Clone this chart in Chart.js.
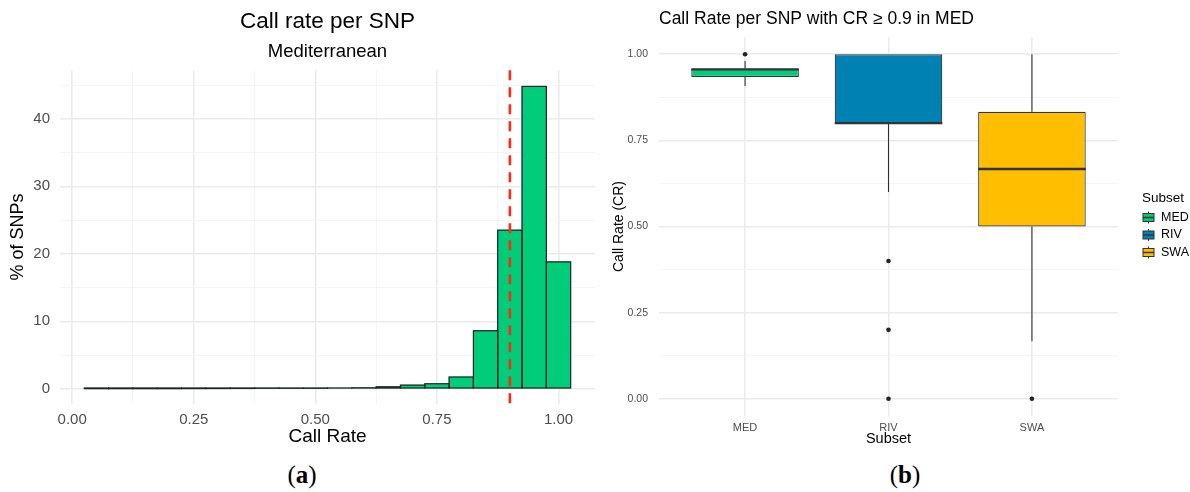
<!DOCTYPE html>
<html>
<head>
<meta charset="utf-8">
<script src="https://cdn.jsdelivr.net/npm/chart.js@4.4.1/dist/chart.umd.min.js"></script>
<style>
  body { margin: 0; background: #fff; width: 1190px; height: 492px; overflow: hidden; position: relative; }
  canvas { position: absolute; top: 0; }
  #histChart { left: 0; }
  #boxChart { left: 600px; }
  .caption { position: absolute; top: 461px; font-family: "Liberation Serif", serif; font-size: 25px; color: #000; transform: translateX(-50%); }
</style>
</head>
<body>
<canvas id="histChart" width="600" height="448"></canvas>
<canvas id="boxChart" width="590" height="448"></canvas>
<div class="caption" style="left:302px">(<b>a</b>)</div>
<div class="caption" style="left:905px">(<b>b</b>)</div>
<script>
// Histogram (a): bin centres and % of SNPs per bin
const binCenters = [0.05, 0.10, 0.15, 0.20, 0.25, 0.30, 0.35, 0.40, 0.45, 0.50,
                    0.55, 0.60, 0.65, 0.70, 0.75, 0.80, 0.85, 0.90, 0.95, 1.00];
const snpPercent = [0.02, 0.02, 0.02, 0.02, 0.03, 0.04, 0.05, 0.08, 0.08, 0.08,
                    0.12, 0.15, 0.3, 0.55, 0.75, 1.75, 8.6, 23.5, 44.8, 18.8];
const callRateTicks = [0, 0.25, 0.5, 0.75, 1];
const percentTicks = [0, 10, 20, 30, 40];
const cutoff = 0.9;

// Boxplot (b): one entry per subset
const subsets = ['MED', 'RIV', 'SWA'];
const subsetColors = ['#00cc7a', '#0081b4', '#ffbf00'];
const q1 = [0.934, 0.8, 0.5];
const median = [0.956, 0.8, 0.667];
const q3 = [0.958, 1.0, 0.833];
const whiskerLow = [0.908, 0.6, 0.167];
const whiskerHigh = [0.98, 1.0, 1.0];
const outliers = [[1.0], [0.4, 0.2, 0.0], [0.0]];
const crTicks = [0, 0.25, 0.5, 0.75, 1];

const FONT = '"Liberation Sans", Arial, sans-serif';
const TICK_COLOR = '#4d4d4d';
const GRID_MAJOR = '#ebebeb';
const GRID_MINOR = '#f2f2f2';

// ggplot-style major + minor gridlines (minor halfway between majors)
function withMinor(majors) {
  const out = [];
  for (let i = 0; i < majors.length; i++) {
    out.push(majors[i]);
    if (i < majors.length - 1) out.push((majors[i] + majors[i + 1]) / 2);
  }
  return out;
}
const isMajor = (majors, v) => majors.some(m => Math.abs(m - v) < 1e-9);

function gridOpts(majors) {
  return {
    drawTicks: false,
    color: ctx => (ctx.tick && isMajor(majors, ctx.tick.value)) ? GRID_MAJOR : GRID_MINOR,
    lineWidth: ctx => (ctx.tick && isMajor(majors, ctx.tick.value)) ? 1.6 : 0.8
  };
}

// outline every histogram bar (even the near-zero ones, like ggplot does)
const barOutline = {
  id: 'barOutline',
  afterDatasetsDraw(chart) {
    const {ctx} = chart;
    ctx.save();
    ctx.strokeStyle = '#222';
    ctx.lineWidth = 1.2;
    chart.getDatasetMeta(0).data.forEach(bar => {
      const top = Math.min(bar.y, bar.base);
      const h = Math.abs(bar.base - bar.y);
      ctx.strokeRect(bar.x - bar.width / 2, top, bar.width, h);
    });
    ctx.restore();
  }
};

const cutoffLine = {
  id: 'cutoffLine',
  afterDatasetsDraw(chart) {
    const {ctx, chartArea, scales: {x}} = chart;
    const px = x.getPixelForValue(cutoff);
    ctx.save();
    ctx.strokeStyle = '#ff2a12';
    ctx.lineWidth = 2.6;
    ctx.setLineDash([10, 7]);
    ctx.beginPath();
    ctx.moveTo(px, chartArea.top);
    ctx.lineTo(px, chartArea.bottom);
    ctx.stroke();
    ctx.restore();
  }
};

new Chart(document.getElementById('histChart'), {
  type: 'bar',
  data: {
    datasets: [{
      data: binCenters.map((c, i) => ({x: c, y: snpPercent[i]})),
      backgroundColor: '#00cc7a',
      borderWidth: 0,
      categoryPercentage: 1,
      barPercentage: 1
    }]
  },
  options: {
    responsive: false,
    animation: false,
    layout: {padding: {top: 8, left: 0, right: 5, bottom: 0}},
    plugins: {
      legend: {display: false},
      tooltip: {enabled: false},
      title: {display: true, text: 'Call rate per SNP', fullSize: false, color: '#000',
              font: {family: FONT, size: 22.5, weight: 'normal'}, padding: {top: 0, bottom: 4}},
      subtitle: {display: true, text: 'Mediterranean', fullSize: false, color: '#000',
                 font: {family: FONT, size: 18.5}, padding: {top: 2, bottom: 7}}
    },
    scales: {
      x: {
        type: 'linear', offset: false, min: -0.025, max: 1.075,
        afterBuildTicks: s => { s.ticks = withMinor(callRateTicks).map(v => ({value: v})); },
        afterFit: s => { s.height = 44; },
        ticks: {color: TICK_COLOR, font: {family: FONT, size: 15}, padding: 7, maxRotation: 0,
                callback: v => isMajor(callRateTicks, v) ? v.toFixed(2) : ''},
        grid: Object.assign({offset: false}, gridOpts(callRateTicks)),
        border: {display: false},
        title: {display: true, text: 'Call Rate', color: '#000', font: {family: FONT, size: 19}, padding: 0}
      },
      y: {
        min: -2.25, max: 47.2,
        afterBuildTicks: s => { s.ticks = withMinor(percentTicks).concat([45]).map(v => ({value: v})); },
        afterFit: s => { s.width = 60; },
        ticks: {color: TICK_COLOR, font: {family: FONT, size: 15}, padding: 10,
                callback: v => isMajor(percentTicks, v) ? String(v) : ''},
        grid: gridOpts(percentTicks),
        border: {display: false},
        title: {display: true, text: '% of SNPs', color: '#000', font: {family: FONT, size: 18}, padding: {top: 7, bottom: 0}}
      }
    }
  },
  plugins: [barOutline, cutoffLine]
});

// whiskers behind the boxes, medians on top, legend at the right
const boxExtras = {
  id: 'boxExtras',
  beforeDatasetsDraw(chart) {
    const {ctx, scales: {x, y}} = chart;
    ctx.save();
    ctx.strokeStyle = '#333';
    ctx.lineWidth = 1.1;
    subsets.forEach((s, i) => {
      const px = x.getPixelForValue(i + 1);
      ctx.beginPath();
      ctx.moveTo(px, y.getPixelForValue(whiskerHigh[i]));
      ctx.lineTo(px, y.getPixelForValue(q3[i]));
      ctx.moveTo(px, y.getPixelForValue(q1[i]));
      ctx.lineTo(px, y.getPixelForValue(whiskerLow[i]));
      ctx.stroke();
    });
    ctx.restore();
  },
  afterDatasetsDraw(chart) {
    const {ctx, scales: {y}} = chart;
    const bars = chart.getDatasetMeta(0).data;
    ctx.save();
    ctx.strokeStyle = '#333';
    ctx.lineWidth = 2.4;
    bars.forEach((bar, i) => {
      const py = y.getPixelForValue(median[i]);
      ctx.beginPath();
      ctx.moveTo(bar.x - bar.width / 2, py);
      ctx.lineTo(bar.x + bar.width / 2, py);
      ctx.stroke();
    });
    ctx.restore();
  },
  afterDraw(chart) {
    const ctx = chart.ctx;
    const left = 543;
    ctx.save();
    ctx.fillStyle = '#000';
    ctx.textBaseline = 'middle';
    ctx.font = '13.5px ' + FONT;
    ctx.fillText('Subset', left - 1, 198);
    ctx.font = '12.5px ' + FONT;
    subsets.forEach((s, i) => {
      const cy = 217.5 + i * 17.5;
      ctx.strokeStyle = '#333';
      ctx.lineWidth = 1;
      ctx.beginPath();
      ctx.moveTo(left + 5.5, cy - 6);
      ctx.lineTo(left + 5.5, cy + 6);
      ctx.stroke();
      ctx.fillStyle = subsetColors[i];
      ctx.fillRect(left, cy - 4, 11, 8);
      ctx.strokeRect(left, cy - 4, 11, 8);
      ctx.lineWidth = 1.5;
      ctx.beginPath();
      ctx.moveTo(left, cy);
      ctx.lineTo(left + 11, cy);
      ctx.stroke();
      ctx.fillStyle = '#000';
      ctx.fillText(s, left + 18, cy);
    });
    ctx.restore();
  }
};

const outlierPoints = [];
outliers.forEach((list, i) => list.forEach(v => outlierPoints.push({x: i + 1, y: v})));

new Chart(document.getElementById('boxChart'), {
  type: 'bar',
  data: {
    datasets: [{
      type: 'bar',
      data: subsets.map((s, i) => ({x: i + 1, y: [q1[i], q3[i]]})),
      backgroundColor: subsetColors,
      borderColor: '#333',
      borderWidth: 1.2,
      borderSkipped: false,
      categoryPercentage: 1,
      barPercentage: 0.75
    }, {
      type: 'scatter',
      data: outlierPoints,
      pointRadius: 2.3,
      pointBackgroundColor: '#222',
      pointBorderWidth: 0
    }]
  },
  options: {
    responsive: false,
    animation: false,
    layout: {padding: {top: 9, left: 0, right: 72, bottom: 0}},
    plugins: {
      legend: {display: false},
      tooltip: {enabled: false},
      title: {display: true, text: 'Call Rate per SNP with CR \u2265 0.9 in MED', align: 'start', fullSize: false,
              color: '#000', font: {family: FONT, size: 17.5, weight: 'normal'}, padding: {top: 0, bottom: 7}}
    },
    scales: {
      x: {
        type: 'linear', offset: false, min: 0.4, max: 3.6,
        afterBuildTicks: s => { s.ticks = subsets.map((n, i) => ({value: i + 1})); },
        afterFit: s => { s.height = 32; },
        ticks: {color: TICK_COLOR, font: {family: FONT, size: 11}, padding: 5, maxRotation: 0,
                callback: v => subsets[v - 1]},
        grid: {offset: false, drawTicks: false, color: GRID_MAJOR, lineWidth: 1.6},
        border: {display: false},
        title: {display: true, text: 'Subset', color: '#000', font: {family: FONT, size: 14.5}, padding: 0}
      },
      y: {
        min: -0.05, max: 1.05,
        afterBuildTicks: s => { s.ticks = withMinor(crTicks).map(v => ({value: v})); },
        afterFit: s => { s.width = 59; },
        ticks: {color: TICK_COLOR, font: {family: FONT, size: 10.5}, padding: 11,
                callback: v => isMajor(crTicks, v) ? v.toFixed(2) : ''},
        grid: gridOpts(crTicks),
        border: {display: false},
        title: {display: true, text: 'Call Rate (CR)', color: '#000', font: {family: FONT, size: 14}, padding: {top: 10.5, bottom: 0}}
      }
    }
  },
  plugins: [boxExtras]
});
</script>
</body>
</html>
